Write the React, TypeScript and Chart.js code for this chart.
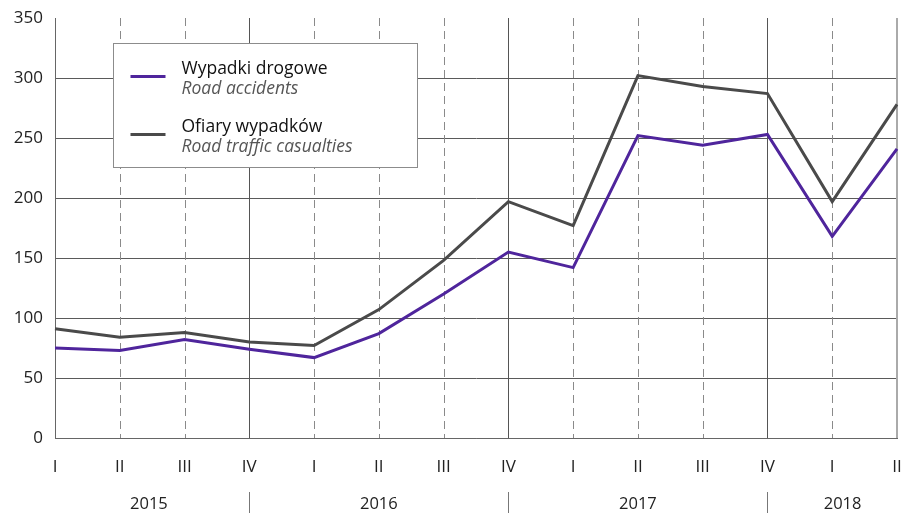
import React, { useEffect, useRef } from "react";
import { Chart, registerables } from "chart.js";

Chart.register(...registerables);

const quarters = ["I", "II", "III", "IV", "I", "II", "III", "IV", "I", "II", "III", "IV", "I", "II"];
const years = ["2015", "2016", "2017", "2018"];
const accidents = [75, 73, 82, 74, 67, 87, 120, 155, 142, 252, 244, 253, 168, 241];
const casualties = [91, 84, 88, 80, 77, 107, 148, 197, 177, 302, 293, 287, 197, 278];
const seriesPl = ["Wypadki drogowe", "Ofiary wypadków"];
const seriesEn = ["Road accidents", "Road traffic casualties"];

const PURPLE = "#4f259c";
const DARK = "#4a4a4a";
const FONT = "'Open Sans', 'Noto Sans', sans-serif";

const yearCenters = [1.45, 5, 9, 12.16];
const yearSeps = [3, 7, 11];

const gridPlugin = {
  id: "customGrid",
  beforeDatasetsDraw(chart: any) {
    const { ctx, chartArea } = chart;
    const x = chart.scales.x;
    ctx.save();
    quarters.forEach((q, i) => {
      const px = Math.round(x.getPixelForValue(i)) + 0.5;
      if (i === 0 || i === quarters.length - 1) return;
      ctx.beginPath();
      if (q === "IV") {
        ctx.setLineDash([]);
        ctx.strokeStyle = "#555";
      } else {
        ctx.setLineDash([8, 5]);
        ctx.strokeStyle = "#8a8a8a";
      }
      ctx.lineWidth = 1;
      ctx.moveTo(px, chartArea.top);
      ctx.lineTo(px, chartArea.bottom);
      ctx.stroke();
    });
    ctx.setLineDash([]);
    // right border
    ctx.strokeStyle = "#aaa";
    ctx.lineWidth = 2;
    ctx.beginPath();
    ctx.moveTo(chartArea.right, chartArea.top);
    ctx.lineTo(chartArea.right, chartArea.bottom);
    ctx.stroke();
    ctx.restore();
  },
  afterDraw(chart: any) {
    const { ctx, chartArea } = chart;
    const x = chart.scales.x;
    ctx.save();
    // year row
    ctx.font = `16.5px ${FONT}`;
    ctx.fillStyle = "#222";
    ctx.textAlign = "center";
    ctx.textBaseline = "middle";
    years.forEach((y, i) => {
      ctx.fillText(y, x.getPixelForValue(yearCenters[i]), chartArea.bottom + 66);
    });
    ctx.strokeStyle = "#777";
    ctx.lineWidth = 1;
    yearSeps.forEach((i) => {
      const px = Math.round(x.getPixelForValue(i)) + 0.5;
      ctx.beginPath();
      ctx.moveTo(px, chartArea.bottom + 54);
      ctx.lineTo(px, chart.height);
      ctx.stroke();
    });
    // legend
    const lx = chartArea.left + 58.5;
    const ly = chartArea.top + 25.5;
    ctx.fillStyle = "#fff";
    ctx.fillRect(lx, ly, 304, 124);
    ctx.strokeStyle = "#8c8c8c";
    ctx.lineWidth = 1;
    ctx.strokeRect(lx, ly, 304, 124);
    const colors = [PURPLE, DARK];
    [0, 1].forEach((k) => {
      const base = ly + 33 + k * 58;
      ctx.strokeStyle = colors[k];
      ctx.lineWidth = 3;
      ctx.beginPath();
      ctx.moveTo(lx + 17, base);
      ctx.lineTo(lx + 52, base);
      ctx.stroke();
      ctx.textAlign = "left";
      ctx.textBaseline = "middle";
      ctx.fillStyle = "#111";
      ctx.font = `17.5px ${FONT}`;
      ctx.fillText(seriesPl[k], lx + 68, base - 7);
      ctx.fillStyle = "#555";
      ctx.font = `italic 17.5px ${FONT}`;
      ctx.fillText(seriesEn[k], lx + 68, base + 13);
    });
    ctx.restore();
  },
};

export default function App() {
  const ref = useRef<HTMLCanvasElement>(null);
  useEffect(() => {
    document.body.style.margin = "0";
    const chart = new Chart(ref.current!, {
      type: "line",
      data: {
        labels: quarters,
        datasets: [
          { label: seriesPl[1], data: casualties, borderColor: DARK, borderWidth: 3, pointRadius: 0, tension: 0 },
          { label: seriesPl[0], data: accidents, borderColor: PURPLE, borderWidth: 3, pointRadius: 0, tension: 0 },
        ],
      },
      options: {
        animation: false,
        responsive: false,
        layout: { padding: { top: 18, right: 6, left: 0, bottom: 0 } },
        plugins: { legend: { display: false }, tooltip: { enabled: false } },
        scales: {
          x: {
            grid: { display: false, drawTicks: false },
            border: { display: true, color: "#666", width: 1 },
            ticks: { font: { family: FONT, size: 17 }, color: "#222", padding: 19, maxRotation: 0, autoSkip: false },
            afterFit: (s: any) => { s.height = 75; s.paddingLeft = 0; s.paddingRight = 0; },
          },
          y: {
            min: 0,
            max: 350,
            ticks: { stepSize: 50, font: { family: FONT, size: 17 }, color: "#222", padding: 12 },
            grid: { color: (c: any) => (c.tick && c.tick.value === 350 ? "rgba(0,0,0,0)" : "#5a5a5a"), drawTicks: false, lineWidth: 1 },
            border: { display: true, color: "#666", width: 1 },
            afterFit: (s: any) => { s.width = 55; s.paddingTop = 0; s.paddingBottom = 0; },
          },
        },
      },
      plugins: [gridPlugin],
    });
    return () => chart.destroy();
  }, []);
  return (
    <div style={{ width: 903, height: 513 }}>
      <canvas ref={ref} width={903} height={513} style={{ display: "block" }} />
    </div>
  );
}
